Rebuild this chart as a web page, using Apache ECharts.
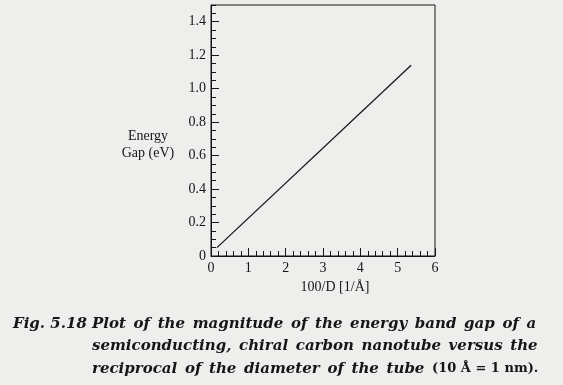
<!DOCTYPE html>
<html>
<head>
<meta charset="utf-8">
<script src="https://cdn.jsdelivr.net/npm/echarts@6/dist/echarts.min.js"></script>
<style>
html,body{margin:0;padding:0;background:#eeeeec;}
#chart{width:563px;height:385px;}
</style>
</head>
<body>
<div id="chart"></div>
<script>
// Data
const lineX = [0.16, 5.36];          // 100/D [1/Å]
const lineY = [0.05, 1.14];          // Energy gap (eV)
const yMajorTicks = [0, 0.2, 0.4, 0.6, 0.8, 1.0, 1.2, 1.4];
const xTickValues = [0, 1, 2, 3, 4, 5, 6];
const yAxisTitle = 'Energy\nGap (eV)';
const xAxisTitle = '100/D [1/Å]';
const captionLabel = 'Fig. 5.18';
const captionLines = [
  'Plot of the magnitude of the energy band gap of a',
  'semiconducting, chiral carbon nanotube versus the',
  'reciprocal of the diameter of the tube'
];
const captionTail = '(10 Å = 1 nm).';

const ink = '#161616';
const serif = '"Liberation Serif", "Times New Roman", serif';
const capFont = '"DejaVu Serif", serif';
const capStyle = 'italic bold 15px ' + capFont;

// justified-looking word spacing: each space is drawn a little wider
const spaced = s => s.split(' ').join('{w| }');
const wideSpace = {fontSize: 22, fontFamily: capFont, fontWeight: 'bold', fontStyle: 'italic', lineHeight: 18};

const chart = echarts.init(document.getElementById('chart'), null, {renderer: 'canvas'});
const gridL = 211, gridR = 435, gridT = 5, gridB = 256;

chart.setOption({
  backgroundColor: '#eeeeec',
  animation: false,
  grid: {
    left: gridL, right: 563 - gridR, top: gridT, bottom: 385 - gridB,
    show: true, borderColor: ink, borderWidth: 1, backgroundColor: 'transparent'
  },
  xAxis: {
    type: 'value', min: xTickValues[0], max: xTickValues[xTickValues.length - 1], interval: 1,
    name: xAxisTitle, nameLocation: 'middle', nameGap: 23,
    nameTextStyle: {fontFamily: serif, fontSize: 14, color: ink, padding: [0, 0, 0, 24]},
    axisLine: {show: true, lineStyle: {color: ink, width: 1}},
    axisTick: {show: true, inside: true, length: 8, lineStyle: {color: ink, width: 1}},
    minorTick: {show: true, splitNumber: 5, length: 5, lineStyle: {color: ink, width: 1}},
    axisLabel: {margin: 5, fontFamily: serif, fontSize: 14, color: ink,
      formatter: v => String(v)},
    splitLine: {show: false}, minorSplitLine: {show: false}
  },
  yAxis: [{
    type: 'value', min: 0, max: 1.5, interval: 0.05,
    axisLine: {show: true, lineStyle: {color: ink, width: 1}},
    axisTick: {show: true, inside: true, length: 5, lineStyle: {color: ink, width: 1}},
    axisLabel: {customValues: yMajorTicks, margin: 5, fontFamily: serif, fontSize: 14, color: ink,
      formatter: v => (v === 0 ? '0' : v.toFixed(1))},
    splitLine: {show: false}
  }, {
    type: 'value', min: 0, max: 1.5, position: 'left', offset: 0,
    axisLine: {show: false},
    axisTick: {show: true, inside: true, length: 8, customValues: yMajorTicks,
      lineStyle: {color: ink, width: 1}},
    axisLabel: {show: false},
    splitLine: {show: false}
  }],
  series: [{
    type: 'line',
    data: lineX.map((x, i) => [x, lineY[i]]),
    showSymbol: false, symbol: 'none',
    lineStyle: {color: ink, width: 1.3},
    z: 3
  }],
  graphic: [
    {type: 'text', x: 148, y: 128,
      style: {text: yAxisTitle, font: '14px ' + serif, fill: ink, align: 'center', lineHeight: 17}},
    {type: 'text', left: 13, top: 317,
      style: {text: captionLabel, font: capStyle, fill: ink}},
    {type: 'text', left: 92, top: 313,
      style: {text: spaced(captionLines[0]), font: capStyle, fill: ink, lineHeight: 18, rich: {w: wideSpace}}},
    {type: 'text', left: 92, top: 335,
      style: {text: spaced(captionLines[1]), font: capStyle, fill: ink, lineHeight: 18, rich: {w: wideSpace}}},
    {type: 'text', left: 92, top: 358,
      style: {
        text: spaced(captionLines[2]) + '{w| }{n|' + captionTail + '}',
        font: capStyle, fill: ink, lineHeight: 18,
        rich: {
          w: wideSpace,
          n: {fontWeight: 'bold', fontSize: 13, fontFamily: capFont, fill: ink, lineHeight: 18}
        }
      }}
  ]
});
</script>
</body>
</html>
